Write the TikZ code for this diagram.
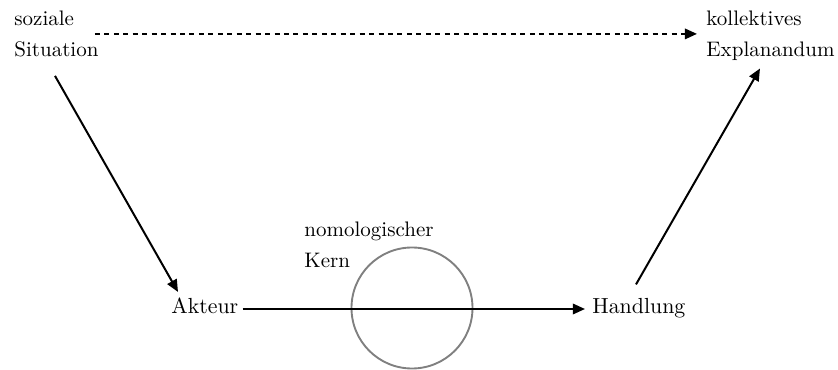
\documentclass[tikz,border=0pt]{standalone}
\usetikzlibrary{arrows.meta,calc}
\begin{document}
\begin{tikzpicture}[x=0.476pt,y=-0.476pt,
  lbl/.style={inner sep=0pt,anchor=base west,align=left,
    font=\fontsize{10}{14.8}\selectfont},
  mainlbl/.style={inner sep=0pt,anchor=base west,font=\fontsize{10.4}{12}\selectfont},
  arr/.style={line width=0.95pt,-{Triangle[length=5.8pt,width=5pt]}},
  kernring/.style={circle,draw=black!50,line width=0.9pt,minimum size=57.6pt,inner sep=0pt}]
  \useasboundingbox (0,0) rectangle (838,370);

  % macro level: situation and collective outcome (base = last line)
  \node[lbl] (sit) at (14,57) {soziale\\Situation};
  \node[lbl] (expl) at (706,57) {kollektives\\Explanandum};

  % micro level: actor, nomological core, action
  \node[kernring] (kern) at (412,308) {};
  \node[lbl] (kernlbl) at (304,268) {nomologischer\\Kern};
  \node[mainlbl] (akteur) at (171,314) {Akteur};
  \node[mainlbl] (handlung) at (592,314) {Handlung};

  % connectors
  \draw[arr,dash pattern=on 2.4pt off 2.1pt]
    ($(sit.north east)+(-4,23)$) -- ($(expl.north west)+(-9,23)$);
  \draw[arr] ($(sit.south west)+(41,18)$) -- ($(akteur.north west)+(7,-6)$);
  \draw[arr] ($(akteur.base east)+(4,-5)$) -- ($(handlung.base west)+(-7,-5)$);
  \draw[arr] ($(handlung.north west)+(44,-14)$) -- ($(expl.south west)+(54,7)$);
\end{tikzpicture}
\end{document}
